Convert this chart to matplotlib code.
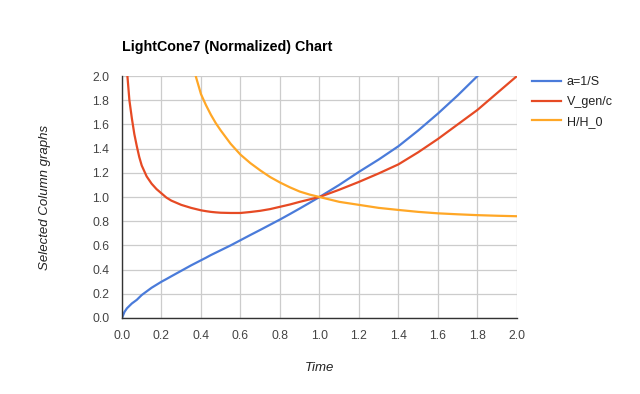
import matplotlib
matplotlib.use('Agg')
import matplotlib.pyplot as plt
import numpy as np

plt.rcParams['font.family'] = ['Liberation Sans', 'DejaVu Sans']

# data
time = [0.0, 0.0125, 0.025, 0.0375, 0.05, 0.0625, 0.075, 0.0875, 0.1, 0.125, 0.15, 0.175,
        0.2, 0.225, 0.25, 0.3, 0.35, 0.375, 0.4, 0.425, 0.45, 0.475, 0.5, 0.55, 0.6, 0.65,
        0.7, 0.75, 0.8, 0.85, 0.9, 0.95, 1.0, 1.1, 1.2, 1.3, 1.4, 1.5, 1.6, 1.7, 1.8, 1.9, 2.0]
a_inv_s = [0.0, 0.05, 0.08, 0.10, 0.12, 0.135, 0.15, 0.17, 0.19, 0.22, 0.25, 0.275,
           0.30, 0.322, 0.345, 0.39, 0.435, 0.456, 0.477, 0.498, 0.52, 0.54, 0.56, 0.60, 0.643, 0.686,
           0.728, 0.771, 0.814, 0.859, 0.905, 0.952, 1.0, 1.10, 1.208, 1.31, 1.42, 1.55, 1.69, 1.84, 2.0, 2.18, 2.38]
v_gen_c = [np.nan, 2.35, 2.05, 1.8, 1.65, 1.52, 1.42, 1.33, 1.26, 1.17, 1.11, 1.065,
           1.03, 0.995, 0.97, 0.935, 0.91, 0.90, 0.89, 0.883, 0.877, 0.873, 0.87, 0.868, 0.868, 0.876,
           0.886, 0.9, 0.919, 0.938, 0.96, 0.98, 1.0, 1.06, 1.125, 1.195, 1.27, 1.37, 1.48, 1.6, 1.72, 1.86, 2.0]
h_h0 = [np.nan] * 15 + [2.6, 2.15, 1.99, 1.85, 1.76, 1.68, 1.61, 1.55, 1.44, 1.35, 1.28,
                        1.22, 1.165, 1.12, 1.08, 1.045, 1.02, 1.0, 0.96, 0.935, 0.91, 0.893, 0.877,
                        0.865, 0.857, 0.85, 0.845, 0.841]

series = [('a=1/S', a_inv_s, '#4a7bda'),
          ('V_gen/c', v_gen_c, '#e64a24'),
          ('H/H_0', h_h0, '#ffa726')]

fig = plt.figure(figsize=(6.4, 3.94), dpi=100)
ax = fig.add_axes([0.1906, 0.1929, 0.6172, 0.6142])

for name, vals, col in series:
    ax.plot(time, vals, color=col, linewidth=1.6, label=name)

ax.set_xlim(0, 2.0)
ax.set_ylim(0, 2.0)
ticks = np.arange(0, 2.01, 0.2)
ax.set_xticks(ticks)
ax.set_yticks(ticks)
ax.set_xticklabels([f'{t:.1f}' for t in ticks])
ax.set_yticklabels([f'{t:.1f}' for t in ticks])
ax.tick_params(length=0, labelsize=8.7, colors='#444444')
ax.tick_params(axis='x', pad=9)
ax.tick_params(axis='y', pad=9)
ax.grid(True, color='#cccccc', linewidth=0.9)
ax.set_axisbelow(True)
for s in ['top', 'right']:
    ax.spines[s].set_visible(False)
for s in ['left', 'bottom']:
    ax.spines[s].set_color('#333333')
    ax.spines[s].set_linewidth(1.0)

ax.set_xlabel('Time', fontsize=9.5, style='italic', color='#222222', labelpad=14)
ax.set_ylabel('Selected Column graphs', fontsize=9.5, style='italic', color='#222222', labelpad=30)

fig.text(122 / 640, 1 - 47 / 394, 'LightCone7 (Normalized) Chart', fontsize=10.3,
         fontweight='bold', color='#000000', va='center', ha='left')

ax.legend(loc='upper left', bbox_to_anchor=(1.01, 1.045), frameon=False, fontsize=9,
          handlelength=2.3, labelspacing=0.62, handletextpad=0.45, labelcolor='#222222')

fig.savefig('out.png', dpi=100)
